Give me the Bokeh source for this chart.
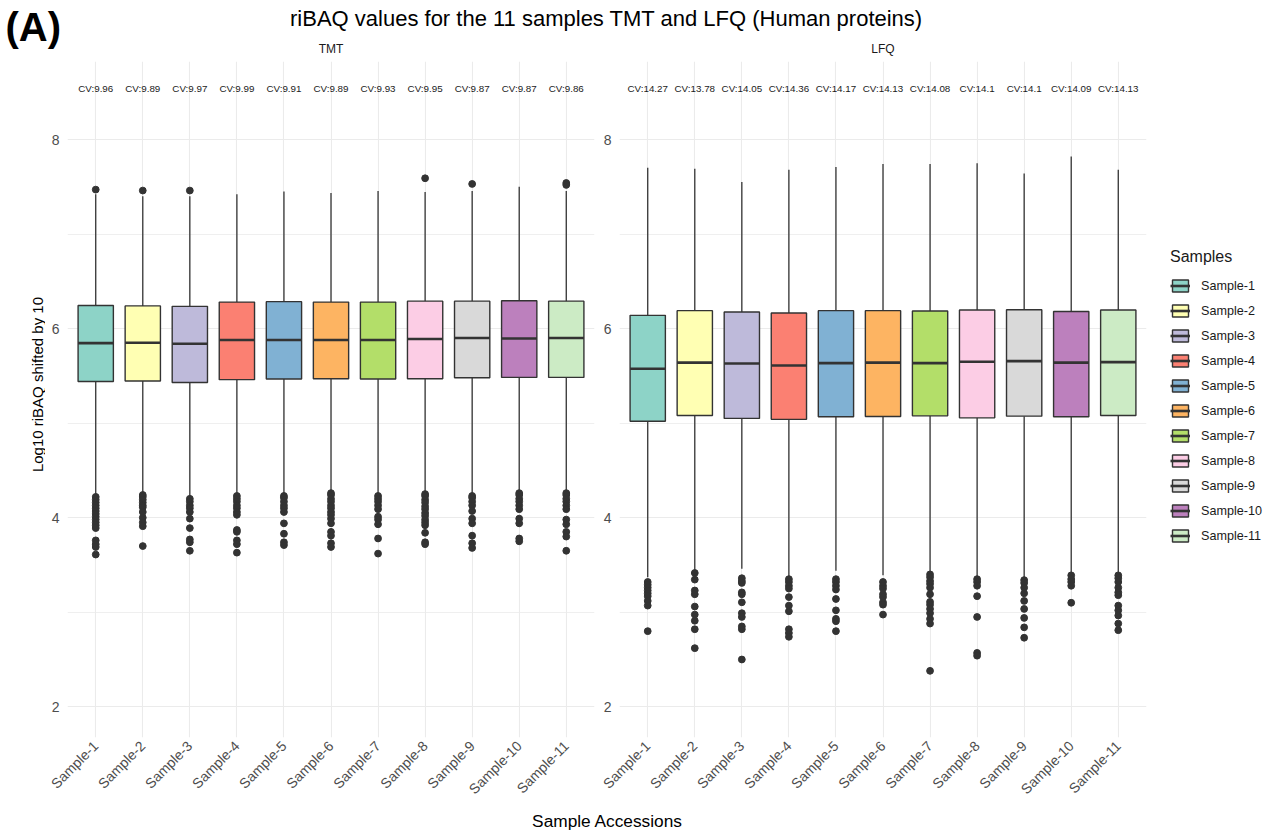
import math
from bokeh.plotting import figure
from bokeh.models import (ColumnDataSource, FactorRange, Range1d, FixedTicker,
                          Legend, LegendItem, Label)
from bokeh.transform import dodge
from bokeh.layouts import column, row
from bokeh.embed import file_html
from bokeh.resources import INLINE
from bokeh.core.properties import value

FONT = "Liberation Sans"

# ---------------- data ----------------
samples = ["Sample-1", "Sample-2", "Sample-3", "Sample-4", "Sample-5", "Sample-6",
           "Sample-7", "Sample-8", "Sample-9", "Sample-10", "Sample-11"]
sample_colors = ["#8DD3C7", "#FFFFB3", "#BEBADA", "#FB8072", "#80B1D3", "#FDB462",
                 "#B3DE69", "#FCCDE5", "#D9D9D9", "#BC80BD", "#CCEBC5"]

# TMT panel
tmt_whisker_high = [7.42, 7.40, 7.40, 7.42, 7.45, 7.435, 7.456, 7.445, 7.456, 7.50, 7.456]
tmt_q3 = [6.245, 6.24, 6.235, 6.28, 6.285, 6.28, 6.28, 6.29, 6.29, 6.295, 6.29]
tmt_median = [5.846, 5.85, 5.84, 5.88, 5.88, 5.88, 5.88, 5.89, 5.90, 5.895, 5.90]
tmt_q1 = [5.44, 5.445, 5.43, 5.46, 5.467, 5.47, 5.467, 5.47, 5.48, 5.484, 5.484]
tmt_whisker_low = [4.24, 4.26, 4.22, 4.25, 4.25, 4.28, 4.25, 4.27, 4.25, 4.28, 4.28]
tmt_outliers = [
    [7.47, 4.22, 4.19, 4.16, 4.13, 4.10, 4.07, 4.04, 4.01, 3.98, 3.95, 3.92, 3.89, 3.76, 3.72, 3.69, 3.61],
    [7.46, 4.24, 4.22, 4.19, 4.16, 4.13, 4.11, 4.06, 4.00, 3.95, 3.91, 3.70],
    [7.46, 4.20, 4.17, 4.13, 4.10, 4.06, 3.99, 3.89, 3.77, 3.74, 3.65],
    [4.23, 4.20, 4.17, 4.13, 4.10, 4.06, 4.03, 3.87, 3.85, 3.76, 3.72, 3.63],
    [4.23, 4.21, 4.17, 4.13, 4.10, 4.06, 3.94, 3.83, 3.74, 3.71],
    [4.26, 4.24, 4.20, 4.17, 4.13, 4.10, 4.06, 4.03, 3.99, 3.94, 3.85, 3.81, 3.73, 3.69],
    [4.23, 4.20, 4.17, 4.13, 4.09, 4.01, 3.98, 3.93, 3.78, 3.62],
    [7.59, 4.25, 4.23, 4.19, 4.16, 4.12, 4.09, 4.05, 4.02, 3.98, 3.95, 3.92, 3.84, 3.74, 3.72],
    [7.53, 4.23, 4.21, 4.17, 4.13, 4.07, 3.99, 3.94, 3.81, 3.73, 3.68],
    [4.26, 4.24, 4.20, 4.17, 4.13, 4.09, 3.99, 3.94, 3.78, 3.75],
    [7.54, 7.52, 4.26, 4.24, 4.20, 4.17, 4.13, 4.09, 3.98, 3.93, 3.85, 3.80, 3.65],
]
tmt_cv = [9.96, 9.89, 9.97, 9.99, 9.91, 9.89, 9.93, 9.95, 9.87, 9.87, 9.86]

# LFQ panel
lfq_whisker_high = [7.70, 7.69, 7.55, 7.68, 7.71, 7.74, 7.74, 7.75, 7.64, 7.82, 7.68]
lfq_q3 = [6.14, 6.19, 6.175, 6.165, 6.19, 6.19, 6.186, 6.196, 6.20, 6.18, 6.196]
lfq_median = [5.575, 5.64, 5.63, 5.61, 5.635, 5.64, 5.635, 5.65, 5.656, 5.64, 5.645]
lfq_q1 = [5.02, 5.08, 5.05, 5.04, 5.067, 5.07, 5.077, 5.056, 5.074, 5.067, 5.08]
lfq_whisker_low = [3.37, 3.44, 3.46, 3.37, 3.44, 3.39, 3.42, 3.37, 3.36, 3.40, 3.40]
lfq_outliers = [
    [3.32, 3.29, 3.26, 3.23, 3.20, 3.17, 3.12, 3.07, 2.80],
    [3.415, 3.345, 3.23, 3.19, 3.06, 2.975, 2.91, 2.82, 2.62],
    [3.36, 3.33, 3.31, 3.21, 3.19, 3.105, 2.99, 2.95, 2.85, 2.82, 2.50],
    [3.35, 3.32, 3.28, 3.25, 3.16, 3.07, 3.01, 2.82, 2.78, 2.74],
    [3.35, 3.32, 3.28, 3.24, 3.14, 3.02, 2.93, 2.905, 2.80],
    [3.32, 3.28, 3.25, 3.19, 3.16, 3.105, 3.08, 2.975],
    [3.40, 3.37, 3.33, 3.30, 3.26, 3.19, 3.11, 3.08, 3.035, 2.99, 2.93, 2.88, 2.38],
    [3.35, 3.32, 3.28, 3.17, 2.95, 2.57, 2.54],
    [3.34, 3.31, 3.26, 3.20, 3.12, 3.035, 2.94, 2.84, 2.73],
    [3.39, 3.35, 3.32, 3.28, 3.10],
    [3.39, 3.36, 3.32, 3.26, 3.21, 3.18, 3.07, 3.02, 2.965, 2.88, 2.81],
]
lfq_cv = [14.27, 13.78, 14.05, 14.36, 14.17, 14.13, 14.08, 14.1, 14.1, 14.09, 14.13]

y_ticks = [2, 4, 6, 8]
y_minor_ticks = [3, 5, 7]
y_limits = (1.675, 8.825)
cv_label_y = 8.54

main_title = "riBAQ values for the 11 samples TMT and LFQ (Human proteins)"
panel_tag = "(A)"
x_title = "Sample Accessions"
y_title = "Log10 riBAQ shifted by 10"
legend_title = "Samples"

DARK = "#333333"
GRID = "#EBEBEB"


def make_panel(hi, q3, med, q1, lo, outliers, cvs, left_border, right_border):
    p = figure(x_range=FactorRange(factors=samples, range_padding=0.1,
                                   range_padding_units="absolute"),
               y_range=Range1d(*y_limits),
               frame_width=527, frame_height=676,
               min_border_left=left_border, min_border_right=right_border,
               min_border_top=3, min_border_bottom=68,
               toolbar_location=None, output_backend="svg")
    p.outline_line_color = None
    p.background_fill_color = "white"
    p.border_fill_color = "white"

    src = ColumnDataSource(dict(sample=samples, color=sample_colors, hi=hi, q3=q3,
                                med=med, q1=q1, lo=lo,
                                cv=["CV:" + str(c) for c in cvs]))
    ox = [s for s, vals in zip(samples, outliers) for _ in vals]
    oy = [v for vals in outliers for v in vals]
    osrc = ColumnDataSource(dict(sample=ox, val=oy))

    p.segment(x0="sample", y0="q3", x1="sample", y1="hi", source=src,
              line_color=DARK, line_width=1.3)
    p.segment(x0="sample", y0="q1", x1="sample", y1="lo", source=src,
              line_color=DARK, line_width=1.3)
    box = p.vbar(x="sample", top="q3", bottom="q1", width=0.75, source=src,
                 fill_color="color", line_color=DARK, line_width=1.4)
    medr = p.segment(x0=dodge("sample", -0.375, range=p.x_range), y0="med",
                     x1=dodge("sample", 0.375, range=p.x_range), y1="med",
                     source=src, line_color=DARK, line_width=2.6)
    p.scatter(x="sample", y="val", source=osrc, size=6.8,
              fill_color=DARK, line_color=DARK)
    p.text(x="sample", y=cv_label_y, text="cv", source=src,
           text_font=value(FONT), text_font_size="9.8px", text_color="#1A1A1A",
           text_align="center", text_baseline="middle")

    p.yaxis.ticker = FixedTicker(ticks=y_ticks, minor_ticks=y_minor_ticks)
    p.axis.axis_line_color = None
    p.axis.major_tick_line_color = None
    p.axis.minor_tick_line_color = None
    p.axis.major_tick_out = 0
    p.axis.major_tick_in = 0
    p.axis.minor_tick_out = 0
    p.axis.major_label_text_font = FONT
    p.axis.major_label_text_font_size = "14px"
    p.axis.major_label_text_color = "#4D4D4D"
    p.yaxis.major_label_standoff = 8
    p.xaxis.major_label_standoff = 6
    p.xaxis.major_label_orientation = math.pi / 4

    p.xgrid.grid_line_color = GRID
    p.xgrid.grid_line_width = 1.1
    p.ygrid.grid_line_color = GRID
    p.ygrid.grid_line_width = 1.1
    p.ygrid.minor_grid_line_color = GRID
    p.ygrid.minor_grid_line_width = 0.8
    return p, box, medr


PANEL_H = 747
p1, _, _ = make_panel(tmt_whisker_high, tmt_q3, tmt_median, tmt_q1, tmt_whisker_low,
                      tmt_outliers, tmt_cv, 22, 4)
p2, box2, med2 = make_panel(lfq_whisker_high, lfq_q3, lfq_median, lfq_q1, lfq_whisker_low,
                            lfq_outliers, lfq_cv, 21, 126)

items = [LegendItem(label=s, renderers=[box2, med2], index=i) for i, s in enumerate(samples)]
legend = Legend(items=items, title=legend_title, location=(24, 194),
                margin=0, padding=2, spacing=10,
                glyph_width=20, glyph_height=15, label_height=15, label_standoff=11,
                label_text_font=FONT, label_text_font_size="12.6px", label_text_color="#1A1A1A",
                title_text_font=FONT, title_text_font_size="16px", title_text_font_style="normal",
                title_text_color="#1A1A1A", title_standoff=12,
                border_line_color=None, background_fill_alpha=0)
p2.add_layout(legend, "right")

# y-axis title column
YW = 45
ylab = figure(width=YW, height=PANEL_H, x_range=Range1d(0, YW), y_range=Range1d(PANEL_H, 0),
              x_axis_type=None, y_axis_type=None, toolbar_location=None,
              output_backend="svg", min_border=0)
ylab.outline_line_color = None
ylab.add_layout(Label(x=37, y=357, text=y_title, angle=math.pi / 2,
                      text_font=FONT, text_font_size="15px", text_baseline="middle",
                      text_align="center", text_color="black"))

# header strip (tag, main title, facet titles)
W = 1272
top = figure(width=W, height=58, x_range=Range1d(0, W), y_range=Range1d(58, 0),
             x_axis_type=None, y_axis_type=None, toolbar_location=None,
             output_backend="svg", min_border=0)
top.outline_line_color = None
top.add_layout(Label(x=5, y=26, text=panel_tag, text_font=FONT, text_font_size="40px",
                     text_font_style="bold", text_baseline="middle", text_align="left",
                     text_color="black"))
top.add_layout(Label(x=606, y=17.5, text=main_title, text_font=FONT, text_font_size="22px",
                     text_baseline="middle", text_align="center", text_color="black"))
top.add_layout(Label(x=330.5, y=48, text="TMT", text_font=FONT, text_font_size="12px",
                     text_baseline="middle", text_align="center", text_color="#1A1A1A"))
top.add_layout(Label(x=882.5, y=48, text="LFQ", text_font=FONT, text_font_size="12px",
                     text_baseline="middle", text_align="center", text_color="#1A1A1A"))

bottom = figure(width=W, height=28, x_range=Range1d(0, W), y_range=Range1d(28, 0),
                x_axis_type=None, y_axis_type=None, toolbar_location=None,
                output_backend="svg", min_border=0)
bottom.outline_line_color = None
bottom.add_layout(Label(x=607, y=15, text=x_title, text_font=FONT, text_font_size="17.3px",
                        text_baseline="middle", text_align="center", text_color="black"))

layout = column(top, row(ylab, p1, p2), bottom)

open("out.html", "w").write(file_html(layout, INLINE))
